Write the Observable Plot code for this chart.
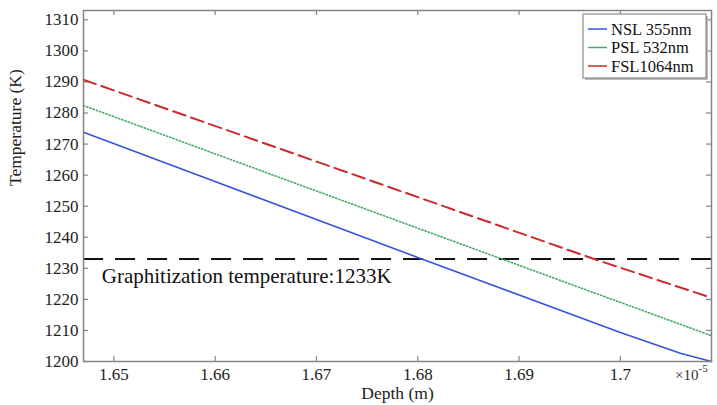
<!DOCTYPE html>
<html><head><meta charset="utf-8">
<script src="https://cdn.jsdelivr.net/npm/d3@7"></script>
<script src="https://cdn.jsdelivr.net/npm/@observablehq/plot@0.6"></script>
<style>
body{margin:0;background:#fff}
#chart{width:717px;height:405px}
</style>
</head><body><div id="chart"></div>
<script>
// Depth in units of 1e-5 m, temperature in K
const depthNSL = [1.647, 1.680, 1.700, 1.706, 1.709];
const tempNSL  = [1273.8, 1233.5, 1209.3, 1202.6, 1200.0];
const depthPSL = [1.647, 1.6883, 1.709];
const tempPSL  = [1282.4, 1233.0, 1208.3];
const depthFSL = [1.647, 1.6974, 1.709];
const tempFSL  = [1290.7, 1233.0, 1220.5];
const seriesNames = ["NSL 355nm", "PSL 532nm", "FSL1064nm"];
const graphitizationTemp = 1233;
const graphitizationLabel = "Graphitization temperature:1233K";
const xTicks = [1.65, 1.66, 1.67, 1.68, 1.69, 1.70];
const xTickLabels = ["1.65", "1.66", "1.67", "1.68", "1.69", "1.7"];
const yTicks = [1200, 1210, 1220, 1230, 1240, 1250, 1260, 1270, 1280, 1290, 1300, 1310];
const xLabel = "Depth (m)";
const yLabel = "Temperature (K)";

const W = 717, H = 405, mL = 83, mR = 6, mT = 10, mB = 44;
const innerW = W - mL - mR, innerH = H - mT - mB;
const colors = ["#3355e0", "#45a86a", "#cc2a2a"];
const dashes = [null, "1.2,2.2", "13,6"];
const widths = [1.6, 1.6, 2];

const toRows = (xs, ys) => xs.map((x, i) => ({x, y: ys[i]}));
const series = [toRows(depthNSL, tempNSL), toRows(depthPSL, tempPSL), toRows(depthFSL, tempFSL)];

const font = "'Liberation Serif', 'Times New Roman', serif";
const frameColor = "#858585";

const plot = Plot.plot({
  width: W, height: H,
  marginLeft: mL, marginRight: mR, marginTop: mT, marginBottom: mB,
  style: {fontFamily: font, fontSize: "16px", color: "#222", background: "#fff"},
  x: {domain: [1.647, 1.709]},
  y: {domain: [1200, 1313]},
  marks: [
    Plot.axisX({ticks: xTicks, tickSize: 0, tickPadding: 6, tickFormat: (d) => xTickLabels[xTicks.indexOf(d)], label: null, fontSize: 17}),
    Plot.axisY({ticks: yTicks, tickSize: 0, tickPadding: 5, tickFormat: (d) => String(d), label: null, fontSize: 17}),
    Plot.tickX(xTicks, {x: d => d, insetTop: innerH - 5, stroke: frameColor, strokeWidth: 1.2}),
    Plot.tickX(xTicks, {x: d => d, insetBottom: innerH - 5, stroke: frameColor, strokeWidth: 1.2}),
    Plot.tickY(yTicks, {y: d => d, insetRight: innerW - 5, stroke: frameColor, strokeWidth: 1.2}),
    Plot.tickY(yTicks, {y: d => d, insetLeft: innerW - 5, stroke: frameColor, strokeWidth: 1.2}),
    Plot.ruleY([graphitizationTemp], {stroke: "#111", strokeWidth: 2, strokeDasharray: "20,12"}),
    ...series.map((s, i) => Plot.line(s, {x: "x", y: "y", stroke: colors[i], strokeWidth: widths[i], strokeDasharray: dashes[i]})),
    Plot.text([graphitizationLabel], {x: 1.6488, y: 1227.6, text: d => d, textAnchor: "start", lineAnchor: "middle", fontSize: 21, fill: "#111"}),
    Plot.text([xLabel], {frameAnchor: "bottom", dy: 32, text: d => d, lineAnchor: "middle", fontSize: 17.5, fill: "#222"}),
    Plot.text([yLabel], {frameAnchor: "left", dx: -68, rotate: -90, text: d => d, lineAnchor: "middle", fontSize: 17.5, fill: "#222"}),
    Plot.frame({stroke: frameColor, strokeWidth: 1.5})
  ]
});

const svg = d3.select(plot);
// exponent label
const exp = svg.append("text").attr("x", 675).attr("y", 380).attr("text-anchor", "start")
  .attr("font-family", font).attr("font-size", 15).attr("fill", "#333");
exp.append("tspan").text("×10");
exp.append("tspan").attr("dy", -8).attr("font-size", 11).text("-5");

// legend
const lg = svg.append("g").attr("font-family", font).attr("font-size", 16.5).attr("text-anchor", "start");
lg.append("rect").attr("x", 585).attr("y", 16).attr("width", 123).attr("height", 64).attr("fill", "#bbb");
lg.append("rect").attr("x", 583).attr("y", 14).attr("width", 123).attr("height", 64)
  .attr("fill", "#fff").attr("stroke", "#777").attr("stroke-width", 1);
seriesNames.forEach((name, i) => {
  const cy = 29 + i * 18.5;
  lg.append("line").attr("x1", 588).attr("x2", 607).attr("y1", cy).attr("y2", cy)
    .attr("stroke", colors[i]).attr("stroke-width", 1.5);
  lg.append("text").attr("x", 611).attr("y", cy).attr("dy", "0.35em").attr("fill", "#111").text(name);
});

document.getElementById("chart").appendChild(plot);
</script>
</body></html>
